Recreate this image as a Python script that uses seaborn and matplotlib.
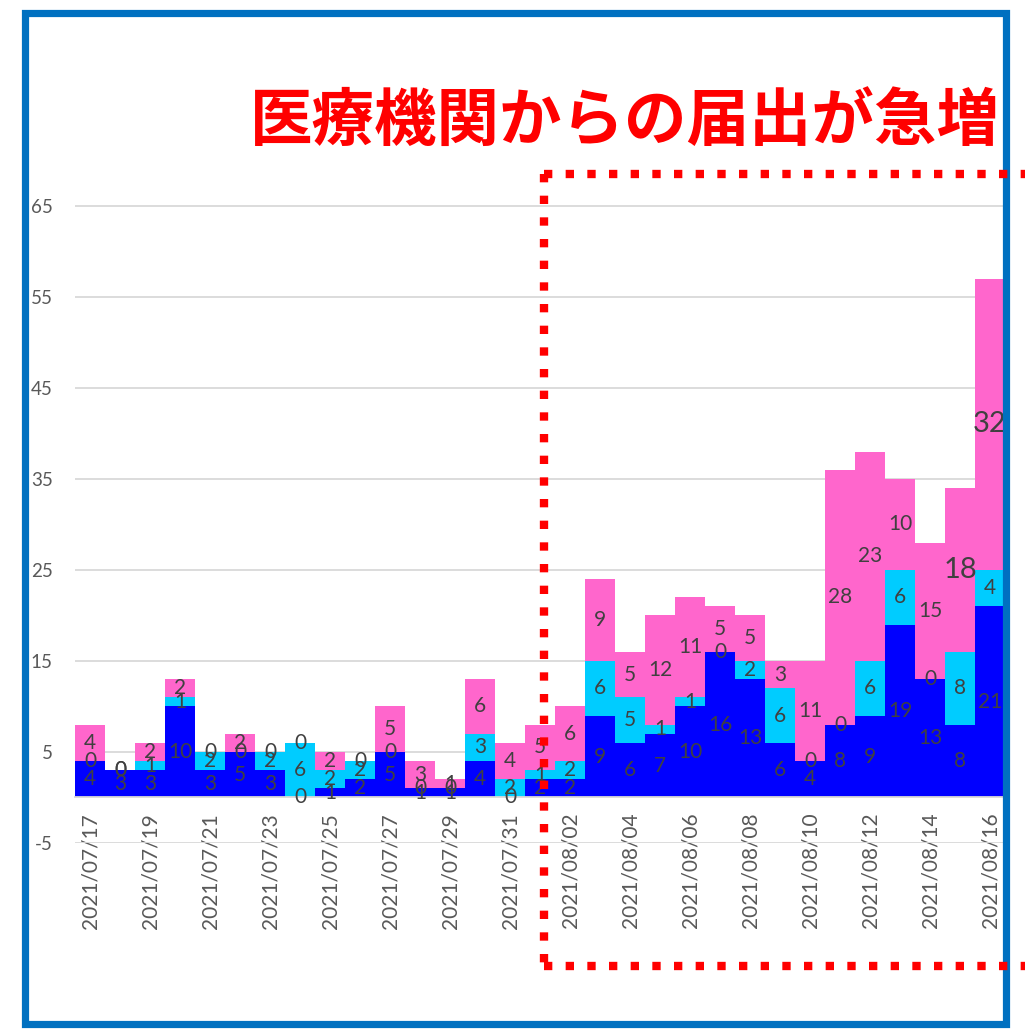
import numpy as np
import pandas as pd
import seaborn as sns
import matplotlib.pyplot as plt
from matplotlib.lines import Line2D
from matplotlib.patches import Rectangle

# daily counts, 2021/07/17 - 2021/08/16
dates = pd.date_range("2021-07-17", "2021-08-16").strftime("%Y/%m/%d").tolist()
blue_vals = [4, 3, 3, 10, 3, 5, 3, 0, 1, 2, 5, 1, 1, 4, 0, 2,
             2, 9, 6, 7, 10, 16, 13, 6, 4, 8, 9, 19, 13, 8, 21]
cyan_vals = [0, 0, 1, 1, 2, 0, 2, 6, 2, 2, 0, 0, 0, 3, 2, 1,
             2, 6, 5, 1, 1, 0, 2, 6, 0, 0, 6, 6, 0, 8, 4]
pink_vals = [4, 0, 2, 2, 0, 2, 0, 0, 2, 0, 5, 3, 1, 6, 4, 5,
             6, 9, 5, 12, 11, 5, 5, 3, 11, 28, 23, 10, 15, 18, 32]
big_labels = ["2021/08/15", "2021/08/16"]  # pink labels drawn larger
title = "医療機関からの届出が急増"
yticks = list(range(-5, 70, 10))

df = pd.DataFrame({"date": dates, "blue": blue_vals, "cyan": cyan_vals, "pink": pink_vals})
df["bc"] = df["blue"] + df["cyan"]
df["total"] = df["bc"] + df["pink"]

sns.set_style("white")
plt.rcParams["font.family"] = ["Lato", "DejaVu Sans"]
plt.rcParams["axes.unicode_minus"] = False

fig = plt.figure(figsize=(10.25, 10.3), dpi=100)
ax = fig.add_axes([75 / 1025, 1 - 843 / 1030, 930 / 1025, (843 - 142) / 1030])

# stacked bars by overlaying cumulative totals
sns.barplot(data=df, x="date", y="total", color="#FF66CC", width=1.0, saturation=1, linewidth=0, ax=ax)
sns.barplot(data=df, x="date", y="bc", color="#00CCFF", width=1.0, saturation=1, linewidth=0, ax=ax)
sns.barplot(data=df, x="date", y="blue", color="#0000FF", width=1.0, saturation=1, linewidth=0, ax=ax)

# data labels in the middle of each segment
for i, row in df.iterrows():
    ax.text(i, row["blue"] / 2, str(row["blue"]), ha="center", va="center", fontsize=15, color="#404040")
    ax.text(i, row["blue"] + row["cyan"] / 2, str(row["cyan"]), ha="center", va="center",
            fontsize=15, color="#404040")
    fs = 21 if row["date"] in big_labels else 15
    ax.text(i, row["bc"] + row["pink"] / 2, str(row["pink"]), ha="center", va="center",
            fontsize=fs, color="#404040")

ax.set_xlim(-0.5, len(dates) - 0.5)
ax.set_ylim(-5, 72)
ax.set_yticks(yticks)
ax.yaxis.grid(True, color="#D9D9D9", linewidth=1.3)
ax.set_axisbelow(True)
ax.tick_params(axis="y", length=0, pad=16, labelsize=13.5, labelcolor="#595959")

ax.set_xticks(range(0, len(dates), 2))
ax.set_xticklabels(dates[::2])
ax.set_xticks(np.arange(-0.5, len(dates), 2), minor=True)
ax.tick_params(axis="x", which="major", length=0, pad=11, labelsize=15, labelcolor="#595959",
               labelrotation=90)
ax.tick_params(axis="x", which="minor", length=5, width=1.3, color="#D9D9D9", direction="out")
ax.set_xlabel("")
ax.set_ylabel("")

for s in ["left", "top", "right"]:
    ax.spines[s].set_visible(False)
ax.spines["bottom"].set_position(("data", 0))
ax.spines["bottom"].set_color("#D9D9D9")
ax.spines["bottom"].set_linewidth(1.3)

# title
fig.text(1000 / 1025, 1 - 121 / 1030, title, ha="right", va="center", fontsize=45,
         color="#FF0000", fontweight="bold", family=["Noto Sans CJK JP", "DejaVu Sans"])

# red dotted highlight box
W, H = 1025, 1030
def px(x, y):
    return x / W, 1 - y / H

dot = dict(color="#FF0000", linewidth=6, linestyle=(0, (1, 1.6)), solid_capstyle="butt",
           dash_capstyle="butt")
for xs, ys in [((544, 1025), (174, 174)), ((544, 544), (174, 966)), ((544, 1025), (966, 966))]:
    p0 = px(xs[0], ys[0])
    p1 = px(xs[1], ys[1])
    fig.add_artist(Line2D([p0[0], p1[0]], [p0[1], p1[1]], transform=fig.transFigure, **dot))

# blue frame
fig.add_artist(Rectangle(px(24.5, 1024), (1006 - 24.5) / W, (1024 - 13) / H, transform=fig.transFigure,
                         fill=False, edgecolor="#0070C0", linewidth=5.2))

fig.savefig("out.png", dpi=100)
